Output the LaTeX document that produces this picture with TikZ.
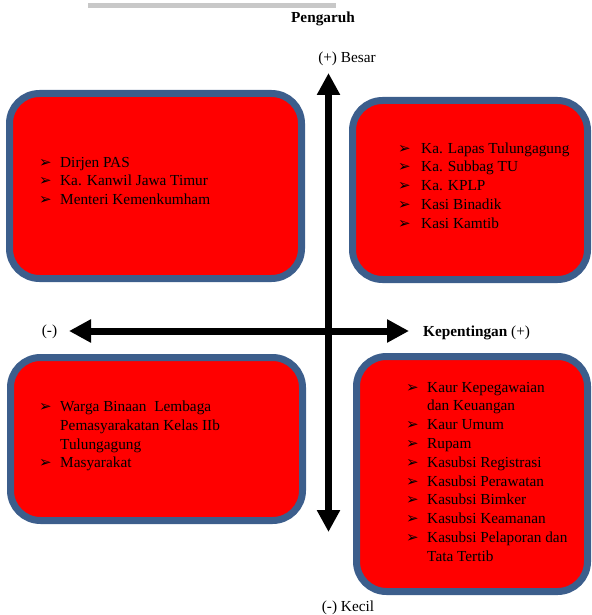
\documentclass[tikz,border=0pt]{standalone}
\usepackage{fontspec}
\setmainfont{Liberation Serif}
\newfontfamily\dejavu{DejaVu Sans}
\usetikzlibrary{arrows.meta}
\definecolor{boxborder}{RGB}{60,94,140}
\definecolor{boxfill}{RGB}{255,0,0}
\definecolor{barcol}{RGB}{200,200,200}
\newcommand{\bul}{{\fontsize{15}{15}\dejavu ➢}}
\newcommand{\bi}[1][21pt]{\makebox[#1][l]{\raisebox{0pt}{\bul}}}
\newcommand{\txtsize}{\fontsize{15.3}{18.8}\selectfont}

\begin{document}
\begin{tikzpicture}[x=1pt,y=-1pt,
  quad/.style={draw=boxborder, fill=boxfill, line width=7pt, rounded corners=30pt, inner sep=0pt, outer sep=0pt},
  list/.style={anchor=base west, inner sep=0pt, font=\txtsize},
  lbl/.style={anchor=base, inner sep=0pt, font=\txtsize},
  axis/.style={line width=7pt, {Triangle[width=22pt,length=22pt]}-{Triangle[width=22pt,length=22pt]}}]
\useasboundingbox (0,0) rectangle (591,615);

% top gray bar
\fill[barcol] (88,3) rectangle (336,8);

% quadrant boxes
\node[quad, minimum width=292pt, minimum height=185pt] (tl) at (155.5,186) {};
\node[quad, minimum width=235pt, minimum height=179pt] (tr) at (470,190) {};
\node[quad, minimum width=292pt, minimum height=163pt] (bl) at (156.5,439) {};
\node[quad, minimum width=231pt, minimum height=235pt] (br) at (472,474) {};

% lists
\node[list] (tltext) at (39,167) {\begin{tabular}[t]{@{}l@{}l@{}}
\bi & Dirjen PAS\\
\bi & Ka. Kanwil Jawa Timur\\
\bi & Menteri Kemenkumham
\end{tabular}};
\node[list] (trtext) at (398,153) {\begin{tabular}[t]{@{}l@{}l@{}}
\bi[23pt] & Ka. Lapas Tulungagung\\
\bi[23pt] & Ka. Subbag TU\\
\bi[23pt] & Ka. KPLP\\
\bi[23pt] & Kasi Binadik\\
\bi[23pt] & Kasi Kamtib
\end{tabular}};
\node[list] (bltext) at (39,411.5) {\begin{tabular}[t]{@{}l@{}l@{}}
\bi & Warga Binaan\ \ Lembaga\\
 & Pemasyarakatan Kelas IIb\\
 & Tulungagung\\
\bi & Masyarakat
\end{tabular}};
\node[list] (brtext) at (406,392) {\begin{tabular}[t]{@{}l@{}l@{}}
\bi & Kaur Kepegawaian\\
 & dan Keuangan\\
\bi & Kaur Umum\\
\bi & Rupam\\
\bi & Kasubsi Registrasi\\
\bi & Kasubsi Perawatan\\
\bi & Kasubsi Bimker\\
\bi & Kasubsi Keamanan\\
\bi & Kasubsi Pelaporan dan\\
 & Tata Tertib
\end{tabular}};

% axes
\coordinate (top) at (328.5,73);
\coordinate (bottom) at (328.5,532);
\coordinate (left) at (69,331);
\coordinate (right) at (409,331);
\draw[axis] (bottom) -- (top);
\draw[axis] (left) -- (right);

% labels
\node[lbl] (pengaruh) at (323,23) {\textbf{Pengaruh}};
\node[lbl] (besar) at (347,63) {(+) Besar};
\node[lbl] (minus) at (49.5,335.5) {(-)};
\node[list] (kepentingan) at (423,336) {\textbf{Kepentingan} (+)};
\node[lbl] (kecil) at (348,611) {(-) Kecil};
\end{tikzpicture}
\end{document}
